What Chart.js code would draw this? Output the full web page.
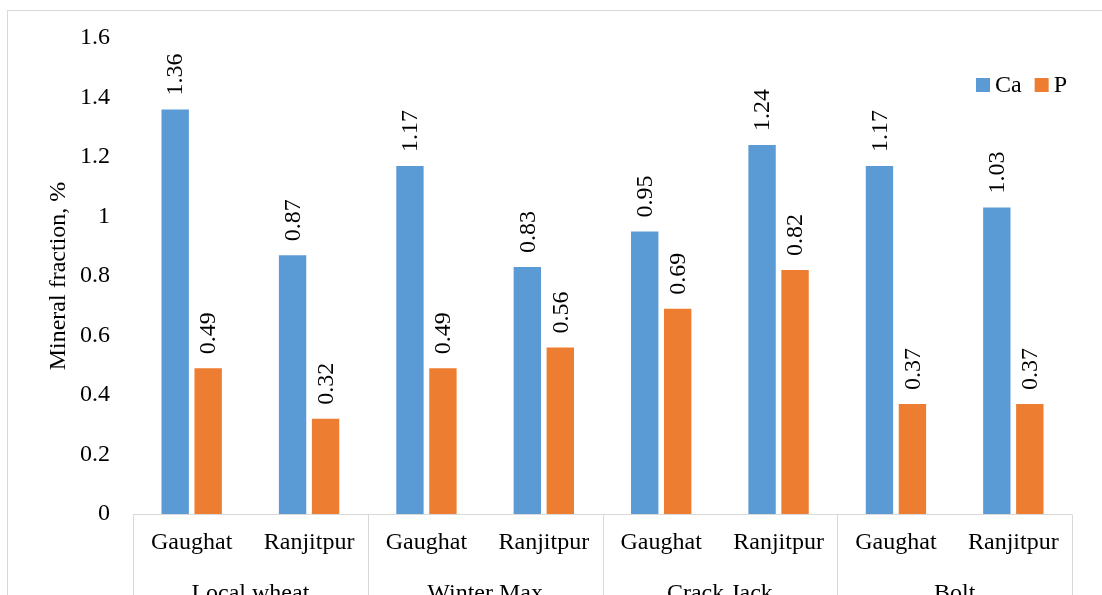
<!DOCTYPE html>
<html>
<head>
<meta charset="utf-8">
<script src="https://cdn.jsdelivr.net/npm/chart.js@4.4.1/dist/chart.umd.min.js"></script>
<style>
  html, body { margin: 0; padding: 0; background: #ffffff; }
  #wrap { width: 1102px; height: 595px; position: relative; }
</style>
</head>
<body>
<div id="wrap"><canvas id="c" width="1102" height="595"></canvas></div>
<script>
// ---- data ----
const sites = ['Gaughat', 'Ranjitpur', 'Gaughat', 'Ranjitpur', 'Gaughat', 'Ranjitpur', 'Gaughat', 'Ranjitpur'];
const varieties = ['Local wheat', 'Winter Max', 'Crack Jack', 'Bolt'];
const caValues = [1.36, 0.87, 1.17, 0.83, 0.95, 1.24, 1.17, 1.03];
const pValues = [0.49, 0.32, 0.49, 0.56, 0.69, 0.82, 0.37, 0.37];
const seriesNames = ['Ca', 'P'];
const yTicks = [0, 0.2, 0.4, 0.6, 0.8, 1, 1.2, 1.4, 1.6];
const yTitle = 'Mineral fraction, %';

const FONT = '"Liberation Serif", "Times New Roman", serif';
const GRID = '#d9d9d9';
const COLORS = ['#5B9BD5', '#ED7D31'];

const decorPlugin = {
  id: 'decor',
  beforeDraw(chart) {
    const ctx = chart.ctx;
    ctx.save();
    ctx.strokeStyle = GRID;
    ctx.lineWidth = 1;
    ctx.strokeRect(7.5, 10.5, 1200, 800);
    ctx.restore();
  },
  afterDraw(chart) {
    const ctx = chart.ctx;
    const area = chart.chartArea;
    const xs = chart.scales.x;
    ctx.save();
    // axis baseline and separators
    ctx.strokeStyle = GRID;
    ctx.lineWidth = 1;
    const yb = Math.round(area.bottom) + 0.5;
    ctx.beginPath();
    ctx.moveTo(area.left, yb);
    ctx.lineTo(area.right, yb);
    const n = sites.length;
    const per = n / varieties.length;
    const step = (area.right - area.left) / n;
    for (let g = 0; g <= varieties.length; g++) {
      const x = Math.round(area.left + g * per * step) + 0.5;
      ctx.moveTo(x, yb);
      ctx.lineTo(x, chart.height);
    }
    ctx.stroke();
    // group labels
    ctx.fillStyle = '#000';
    ctx.font = '24px ' + FONT;
    ctx.textAlign = 'center';
    ctx.textBaseline = 'middle';
    for (let g = 0; g < varieties.length; g++) {
      const cx = area.left + (g + 0.5) * per * step;
      ctx.fillText(varieties[g], cx, area.bottom + 80);
    }
    // data labels
    ctx.font = '24px ' + FONT;
    chart.data.datasets.forEach((ds, di) => {
      const meta = chart.getDatasetMeta(di);
      meta.data.forEach((bar, i) => {
        ctx.save();
        ctx.translate(bar.x, bar.y - 14);
        ctx.rotate(-Math.PI / 2);
        ctx.textAlign = 'left';
        ctx.textBaseline = 'middle';
        ctx.fillText(String(ds.data[i]), 0, 1);
        ctx.restore();
      });
    });
    // legend
    ctx.font = '24px ' + FONT;
    ctx.textBaseline = 'middle';
    ctx.textAlign = 'left';
    const ly = area.top + 47;
    let lx = area.right - 96;
    chart.data.datasets.forEach((ds, di) => {
      ctx.fillStyle = ds.backgroundColor;
      ctx.fillRect(lx, ly - 7, 14, 14);
      ctx.fillStyle = '#000';
      ctx.fillText(ds.label, lx + 19, ly + 1);
      lx += 19 + ctx.measureText(ds.label).width + 13;
    });
    ctx.restore();
  }
};

new Chart(document.getElementById('c'), {
  type: 'bar',
  data: {
    labels: sites,
    datasets: [
      { label: seriesNames[0], data: caValues, backgroundColor: COLORS[0] },
      { label: seriesNames[1], data: pValues, backgroundColor: COLORS[1] }
    ]
  },
  options: {
    responsive: false,
    animation: false,
    devicePixelRatio: 1,
    layout: { padding: { top: 38, right: 30, left: 0, bottom: 0 } },
    datasets: { bar: { categoryPercentage: 0.562, barPercentage: 0.83 } },
    plugins: {
      legend: { display: false },
      tooltip: { enabled: false }
    },
    scales: {
      x: {
        grid: { display: false, drawTicks: false },
        border: { display: false },
        ticks: { color: '#000', font: { family: FONT, size: 24 }, padding: 14, maxRotation: 0, autoSkip: false },
        afterFit(s) { s.height = 81; }
      },
      y: {
        min: 0, max: 1.6,
        grid: { display: false, drawTicks: false },
        border: { display: false },
        afterBuildTicks(s) { s.ticks = yTicks.map(v => ({ value: v })); },
        ticks: { color: '#000', font: { family: FONT, size: 24 }, padding: 23,
                 callback: v => String(v) },
        title: { display: true, text: yTitle, color: '#000', font: { family: FONT, size: 24 }, padding: { top: 44, bottom: 0 } },
        afterFit(s) { s.width = 133; }
      }
    }
  },
  plugins: [decorPlugin]
});
</script>
</body>
</html>
